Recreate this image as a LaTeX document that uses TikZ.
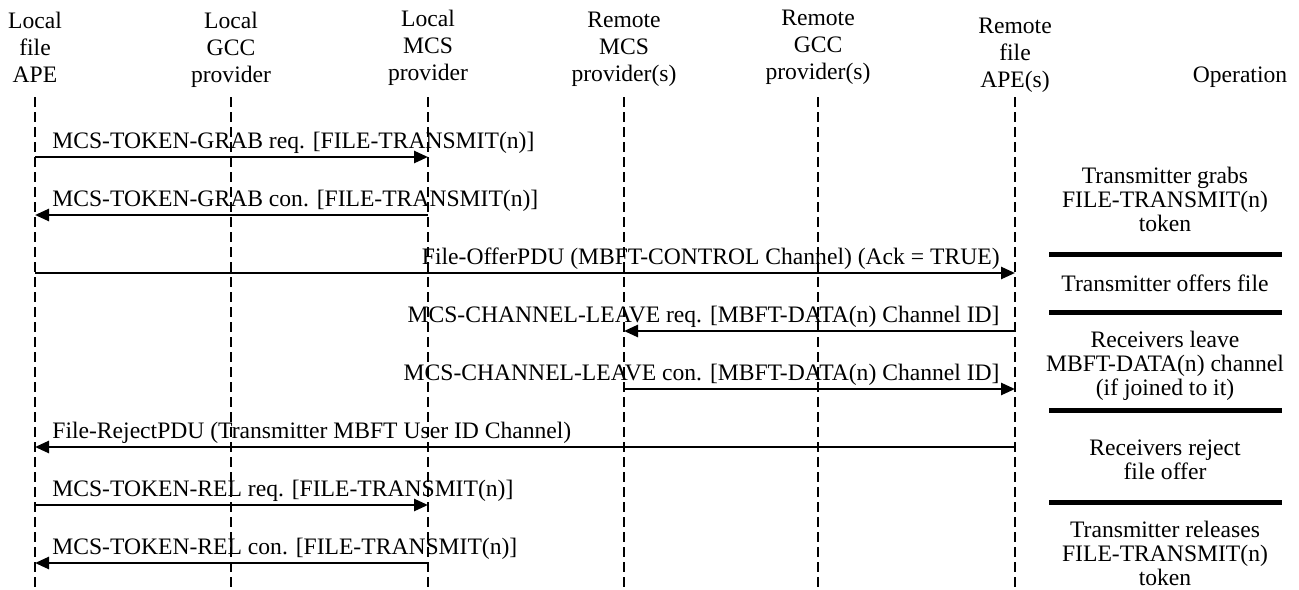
\documentclass[tikz,border=0pt]{standalone}
\usepackage{fontspec}
\setmainfont{Liberation Serif}
\usetikzlibrary{arrows.meta}
\tikzset{
  head/.style={align=center,inner sep=0pt,anchor=north,font=\fontsize{11.8}{13.5}\selectfont},
  oper/.style={align=center,inner sep=0pt,font=\fontsize{11.8}{12}\selectfont},
  lbl/.style={inner sep=0pt,font=\fontsize{11.8}{13.5}\selectfont},
  life/.style={line width=1pt,dash pattern=on 5pt off 2.5pt},
  msg/.style={line width=1.3pt,-{Triangle[length=7pt,width=6pt]}},
  sepbar/.style={line width=2.5pt}
}
\begin{document}
\begin{tikzpicture}[x=0.5pt,y=-0.5pt]
      \useasboundingbox (0,0) rectangle (1299,589);
      \node[head] (la) at (35,12) {Local\\file\\APE};
      \node[head] (lg) at (231,12) {Local\\GCC\\provider};
      \node[head] (lm) at (428,10) {Local\\MCS\\provider};
      \node[head] (rm) at (624,12) {Remote\\MCS\\provider(s)};
      \node[head] (rg) at (818,10) {Remote\\GCC\\provider(s)};
      \node[head] (ra) at (1015,18) {Remote\\file\\APE(s)};
      \node[oper] (op) at (1240,77) {Operation};
      \coordinate (top) at (0,97);
      \coordinate (bot) at (0,589);
      \draw[life] (la |- top) -- (la |- bot);
      \draw[life] (lg |- top) -- (lg |- bot);
      \draw[life] (lm |- top) -- (lm |- bot);
      \draw[life] (rm |- top) -- (rm |- bot);
      \draw[life] (rg |- top) -- (rg |- bot);
      \draw[life] (ra |- top) -- (ra |- bot);
      \coordinate (r1) at (0,157);
      \coordinate (r2) at (0,215);
      \coordinate (r3) at (0,273);
      \coordinate (r4) at (0,331);
      \coordinate (r5) at (0,389);
      \coordinate (r6) at (0,447);
      \coordinate (r7) at (0,505);
      \coordinate (r8) at (0,563);
      \node[lbl,anchor=base west] (t1) at (52,148) {MCS-TOKEN-GRAB req. [FILE-TRANSMIT(n)]};
      \node[lbl,anchor=base west] (t2) at (52,206) {MCS-TOKEN-GRAB con. [FILE-TRANSMIT(n)]};
      \node[lbl,anchor=base east] (t3) at (1000,264) {File-OfferPDU (MBFT-CONTROL Channel) (Ack = TRUE)};
      \node[lbl,anchor=base east] (t4) at (1000,322) {MCS-CHANNEL-LEAVE req. [MBFT-DATA(n) Channel ID]};
      \node[lbl,anchor=base east] (t5) at (1000,380) {MCS-CHANNEL-LEAVE con. [MBFT-DATA(n) Channel ID]};
      \node[lbl,anchor=base west] (t6) at (52,438) {File-RejectPDU (Transmitter MBFT User ID Channel)};
      \node[lbl,anchor=base west] (t7) at (52,496) {MCS-TOKEN-REL req. [FILE-TRANSMIT(n)]};
      \node[lbl,anchor=base west] (t8) at (52,554) {MCS-TOKEN-REL con. [FILE-TRANSMIT(n)]};
      \draw[msg] (la |- r1) -- (lm |- r1);
      \draw[msg] (lm |- r2) -- (la |- r2);
      \draw[msg] (la |- r3) -- (ra |- r3);
      \draw[msg] (ra |- r4) -- (rm |- r4);
      \draw[msg] (rm |- r5) -- (ra |- r5);
      \draw[msg] (ra |- r6) -- (la |- r6);
      \draw[msg] (la |- r7) -- (lm |- r7);
      \draw[msg] (lm |- r8) -- (la |- r8);
      \node[oper] (o1) at (1165,199) {Transmitter grabs\\FILE-TRANSMIT(n)\\token};
      \node[oper] (o2) at (1165,283) {Transmitter offers file};
      \node[oper] (o3) at (1165,366) {Receivers leave\\MBFT-DATA(n) channel\\(if joined to it)};
      \node[oper] (o4) at (1165,460) {Receivers reject\\file offer};
      \node[oper] (o5) at (1165,553) {Transmitter releases\\FILE-TRANSMIT(n)\\token};
      \draw[sepbar] (1049,254) -- (1282,254);
      \draw[sepbar] (1049,312) -- (1282,312);
      \draw[sepbar] (1049,410) -- (1282,410);
      \draw[sepbar] (1049,502) -- (1282,502);
    \end{tikzpicture}
\end{document}
